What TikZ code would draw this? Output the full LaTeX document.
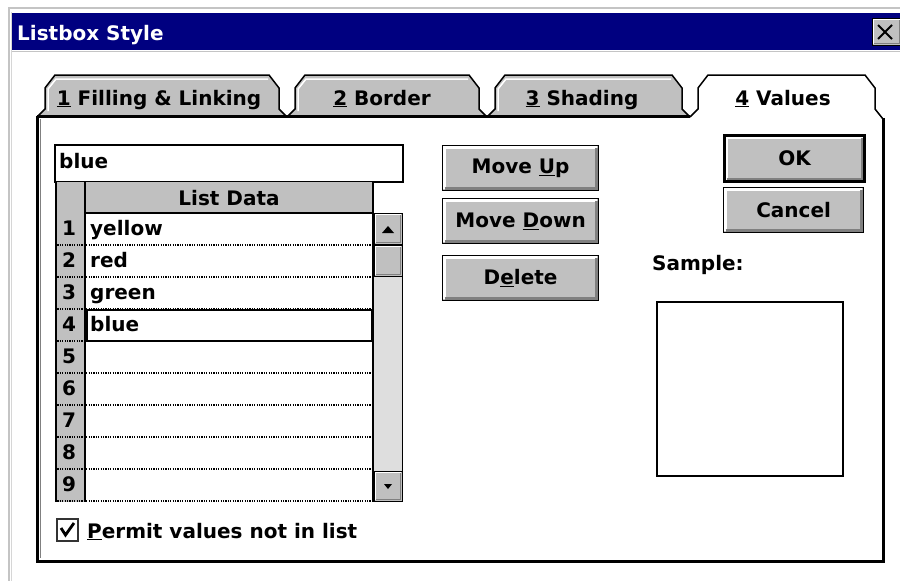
\documentclass[tikz,border=0pt]{standalone}
\usepackage{fontspec}
\setmainfont{DejaVu Sans}
\definecolor{navy}{RGB}{0,0,128}
\definecolor{wgray}{RGB}{192,192,192}
\definecolor{dgray}{RGB}{128,128,128}
\definecolor{fgray}{RGB}{196,196,196}
\definecolor{track}{RGB}{222,222,222}
\newcommand{\tabshape}[3]{%
  \draw[tabline, fill=#3] (#1,117) -- ({#1+8},109) -- ({#1+8},88) -- ({#1+18},75) -- ({#2-18},75) -- ({#2-8},88) -- ({#2-8},109) -- (#2,117);
  \draw[white, line width=1.5pt] ({#1+11},111) -- ({#1+11},89) -- ({#1+19},79) -- ({#2-19},79);
}
\newcommand{\bevel}[4]{% x1,y1,x2,y2 : 3D gray box
  \fill[wgray] (#1,#2) rectangle (#3,#4);
  \draw[white, line width=1.5pt] ({#1+1.5},{#4-1.5}) -- ({#1+1.5},{#2+1.5}) -- ({#3-1.5},{#2+1.5});
  \draw[dgray, line width=1.5pt] ({#1+1.5},{#4-1.5}) -- ({#3-1.5},{#4-1.5}) -- ({#3-1.5},{#2+1.5});
  \draw[black, line width=1pt] (#1,#2) rectangle (#3,#4);
}
\begin{document}
\begin{tikzpicture}[x=1pt,y=-1pt,
  every node/.style={font=\fontsize{20}{24}\selectfont\bfseries, inner sep=0pt},
  tabline/.style={draw=black, line width=1.5pt, line join=miter},
  btn/.style={draw=black, line width=1.2pt, fill=wgray, anchor=north west,
    path picture={
      \draw[white,line width=2.5pt] ([shift={(2pt,2pt)}]path picture bounding box.south west) |- ([shift={(-2pt,-2pt)}]path picture bounding box.north east);
      \draw[dgray,line width=2.5pt] ([shift={(2pt,2pt)}]path picture bounding box.south west) -| ([shift={(-2pt,-2pt)}]path picture bounding box.north east);
    }},
  dotrow/.style={black, line width=1.2pt, dash pattern=on 1.2pt off 1.2pt},
  gridline/.style={black, line width=1.5pt},
  celltxt/.style={anchor=base west},
  numtxt/.style={anchor=base west}
]
\useasboundingbox (0,0) rectangle (900,581);
\fill[white] (0,0) rectangle (900,581);

% window frame
\draw[fgray, line width=2pt] (8.5,581) -- (8.5,7.5) -- (900,7.5);
\draw[fgray!70, line width=1.2pt] (11.5,581) -- (11.5,12);
% title bar
\fill[navy] (12,13) rectangle (900,50);
\draw[fgray, line width=1pt] (12,51) -- (900,51);
\node[anchor=base west, text=white] (title) at (17,40) {Listbox Style};
% close button
\bevel{872}{18}{901}{45}
\draw[black, line width=2pt] (878,25) -- (892,39) (892,25) -- (878,39);

% tabs
\tabshape{37}{287}{wgray}
\tabshape{287}{487}{wgray}
\tabshape{487}{690}{wgray}
\fill[white] (690,117) -- (698,109) -- (698,88) -- (708,75) -- (865,75) -- (875,88) -- (875,109) -- (883,119) -- cycle;
\draw[tabline] (690,117) -- (698,109) -- (698,88) -- (708,75) -- (865,75) -- (875,88) -- (875,109) -- (883,119);
\node[anchor=base] (tab1) at (159,105) {\underline{1} Filling \& Linking};
\node[anchor=base] (tab2) at (382,105) {\underline{2} Border};
\node[anchor=base] (tab3) at (582,105) {\underline{3} Shading};
\node[anchor=base] (tab4) at (783,105) {\underline{4} Values};

% panel
\draw[black, line width=3pt, line join=miter] (37,116) -- (690,116);
\draw[black, line width=3pt, line join=miter] (37,116) -- (37,561) -- (883,561) -- (883,118);
\draw[dgray, line width=1pt] (40,119) -- (40,558);

% edit box
\draw[black, line width=1.5pt] (55,145) rectangle (403,182);
\node[celltxt] (edit) at (59,168) {blue};

% grid
\fill[wgray] (55,182) rectangle (85,502);
\fill[wgray] (85,182) rectangle (373,213);
\node[anchor=base] (hdr) at (229,205) {List Data};
\foreach \y in {245,277,309,341,373,405,437,469,501}
  \draw[dotrow] (55,\y) -- (373,\y);
\draw[gridline] (85,213) -- (373,213);
\draw[gridline] (56,182) -- (56,502);
\draw[gridline] (85,182) -- (85,502);
\draw[gridline] (373,182) -- (373,502);
\draw[black, line width=2.5pt] (87,310) rectangle (372,341);
\foreach \n/\y/\t in {1/235/yellow,2/267/red,3/299/green,4/331/blue,5/363/,6/395/,7/427/,8/459/,9/491/}{
  \node[numtxt] (num\n) at (62,\y) {\n};
  \node[celltxt] (cell\n) at (90,\y) {\t};
}
% scrollbar
\fill[track] (374,213) rectangle (402,502);
\draw[black, line width=1.5pt] (402.5,213) -- (402.5,502);
\bevel{374}{213}{402}{244}
\fill[black] (382,233) -- (394,233) -- (388,226) -- cycle;
\bevel{374}{245}{402}{276}
\bevel{374}{471}{402}{501}
\fill[black] (384,484) -- (392,484) -- (388,489) -- cycle;

% checkbox
\draw[black!80, line width=2pt] (57,519) rectangle (78,541);
\draw[black, line width=2.8pt, line join=miter] (61,528) -- (65.5,535) -- (74,523);
\node[anchor=base west] (permit) at (87,538) {\underline{P}ermit values not in list};

% buttons
\node[btn, minimum width=156pt, minimum height=45pt] (mvup) at (442,145) {Move \underline{U}p};
\node[btn, minimum width=156pt, minimum height=45pt] (mvdown) at (442,198) {Move \underline{D}own};
\node[btn, minimum width=156pt, minimum height=45pt] (del) at (442,255) {D\underline{e}lete};
\node[btn, minimum width=140pt, minimum height=46pt, line width=3pt] (ok) at (723,134) {OK};
\node[btn, minimum width=140pt, minimum height=45pt] (cancel) at (723,187) {Cancel};

% sample
\node[anchor=base west] (samplelbl) at (652,270) {Sample:};
\draw[black, line width=1.5pt] (657,302) rectangle (843,476);
\end{tikzpicture}
\end{document}
